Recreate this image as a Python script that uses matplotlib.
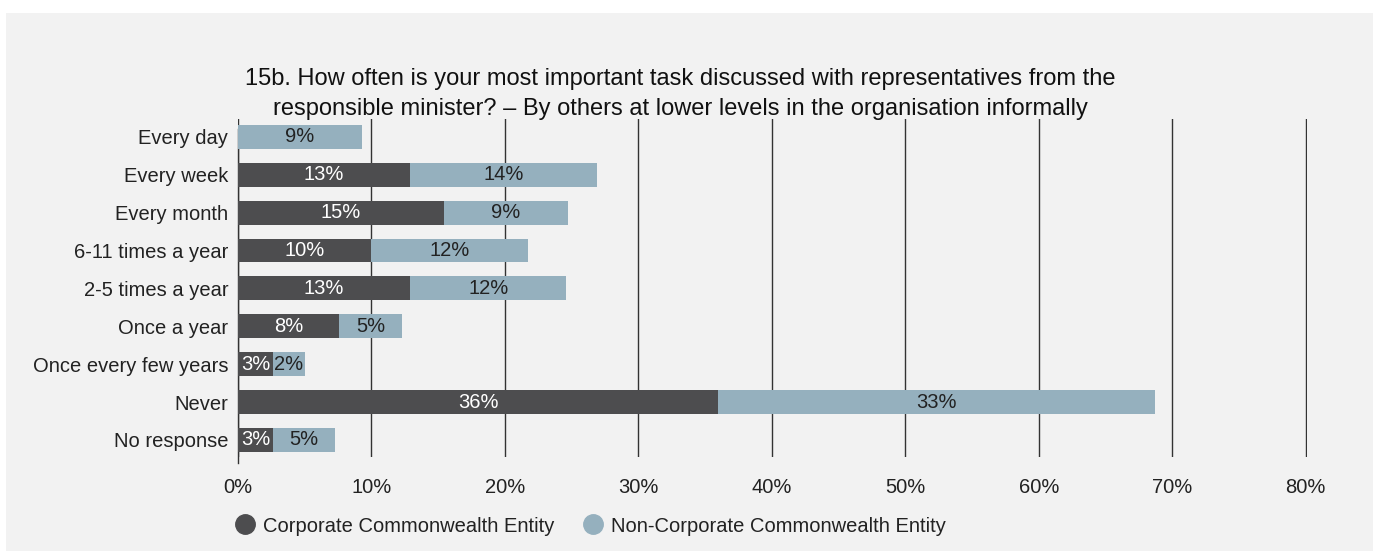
import matplotlib
matplotlib.use('Agg')
from matplotlib import pyplot as plt
from matplotlib.lines import Line2D
from matplotlib.patches import Rectangle

plt.rcParams['font.family'] = ['Liberation Sans', 'DejaVu Sans']

categories = ['Every day', 'Every week', 'Every month', '6-11 times a year',
              '2-5 times a year', 'Once a year', 'Once every few years',
              'Never', 'No response']
corporate = [0, 12.9, 15.4, 10.0, 12.9, 7.6, 2.6, 36.0, 2.6]
non_corporate = [9.3, 14.0, 9.3, 11.7, 11.7, 4.7, 2.4, 32.7, 4.7]
series_names = ['Corporate Commonwealth Entity', 'Non-Corporate Commonwealth Entity']
xticks = [0, 10, 20, 30, 40, 50, 60, 70, 80]

title = ('15b. How often is your most important task discussed with representatives from the\n'
         'responsible minister? \u2013 By others at lower levels in the organisation informally')

dark = '#4d4d4f'
light = '#95b0be'
bg = '#f2f2f2'
fs = 14.5

fig = plt.figure(figsize=(13.73, 5.51), dpi=100)
fig.patch.set_facecolor('white')
# grey panel behind everything
fig.patches.append(Rectangle((6 / 1373, 0), 1, 1 - 13 / 551, transform=fig.transFigure,
                             facecolor=bg, edgecolor='none', zorder=-10))

ax = fig.add_axes([238 / 1373, 1 - 457 / 551, (1307 - 238) / 1373, (457 - 119) / 551])
ax.set_facecolor(bg)

ypos = list(range(len(categories)))
h = 0.63
ax.barh(ypos, corporate, height=h, color=dark, zorder=3)
ax.barh(ypos, non_corporate, height=h, left=corporate, color=light, zorder=3)

for i in ypos:
    c = corporate[i]
    n = non_corporate[i]
    if c > 0:
        ax.text(c / 2, i, '%d%%' % round(c), ha='center', va='center',
                color='white', fontsize=fs, zorder=4)
    if n > 0:
        ax.text(c + n / 2, i, '%d%%' % round(n), ha='center', va='center',
                color='#222222', fontsize=fs, zorder=4)

ax.set_xlim(0, 80.1)
ax.set_ylim(len(categories) - 0.55, -0.47)
ax.set_yticks(ypos)
ax.set_yticklabels(categories, fontsize=fs, color='#222222')
ax.set_xticks(xticks)
ax.set_xticklabels(['%d%%' % t for t in xticks], fontsize=fs, color='#222222')
ax.tick_params(axis='both', length=0)
ax.tick_params(axis='x', pad=15)
ax.tick_params(axis='y', pad=7)
ax.xaxis.grid(True, color='#333333', linewidth=1.0, zorder=1)
for s in ax.spines.values():
    s.set_visible(False)
ax.plot([0, 0], [len(categories) - 0.4, -0.2], color='#333333', linewidth=1.0,
        zorder=2, clip_on=False)

fig.text(680 / 1373, 1 - 94 / 551, title, ha='center', va='center',
         fontsize=17, color='#111111', linespacing=1.45)

handles = [Line2D([], [], marker='o', linestyle='none', markersize=14,
                  markerfacecolor=dark, markeredgecolor=dark),
           Line2D([], [], marker='o', linestyle='none', markersize=14,
                  markerfacecolor=light, markeredgecolor=light)]
leg = fig.legend(handles, series_names, loc='center left',
                 bbox_to_anchor=(237 / 1373, 1 - 526 / 551), ncol=2, frameon=False,
                 fontsize=fs, handlelength=0.8, handletextpad=0.5, columnspacing=1.5,
                 borderpad=0, borderaxespad=0)
for t in leg.get_texts():
    t.set_color('#222222')

fig.savefig('out.png', dpi=100, facecolor=fig.get_facecolor())
